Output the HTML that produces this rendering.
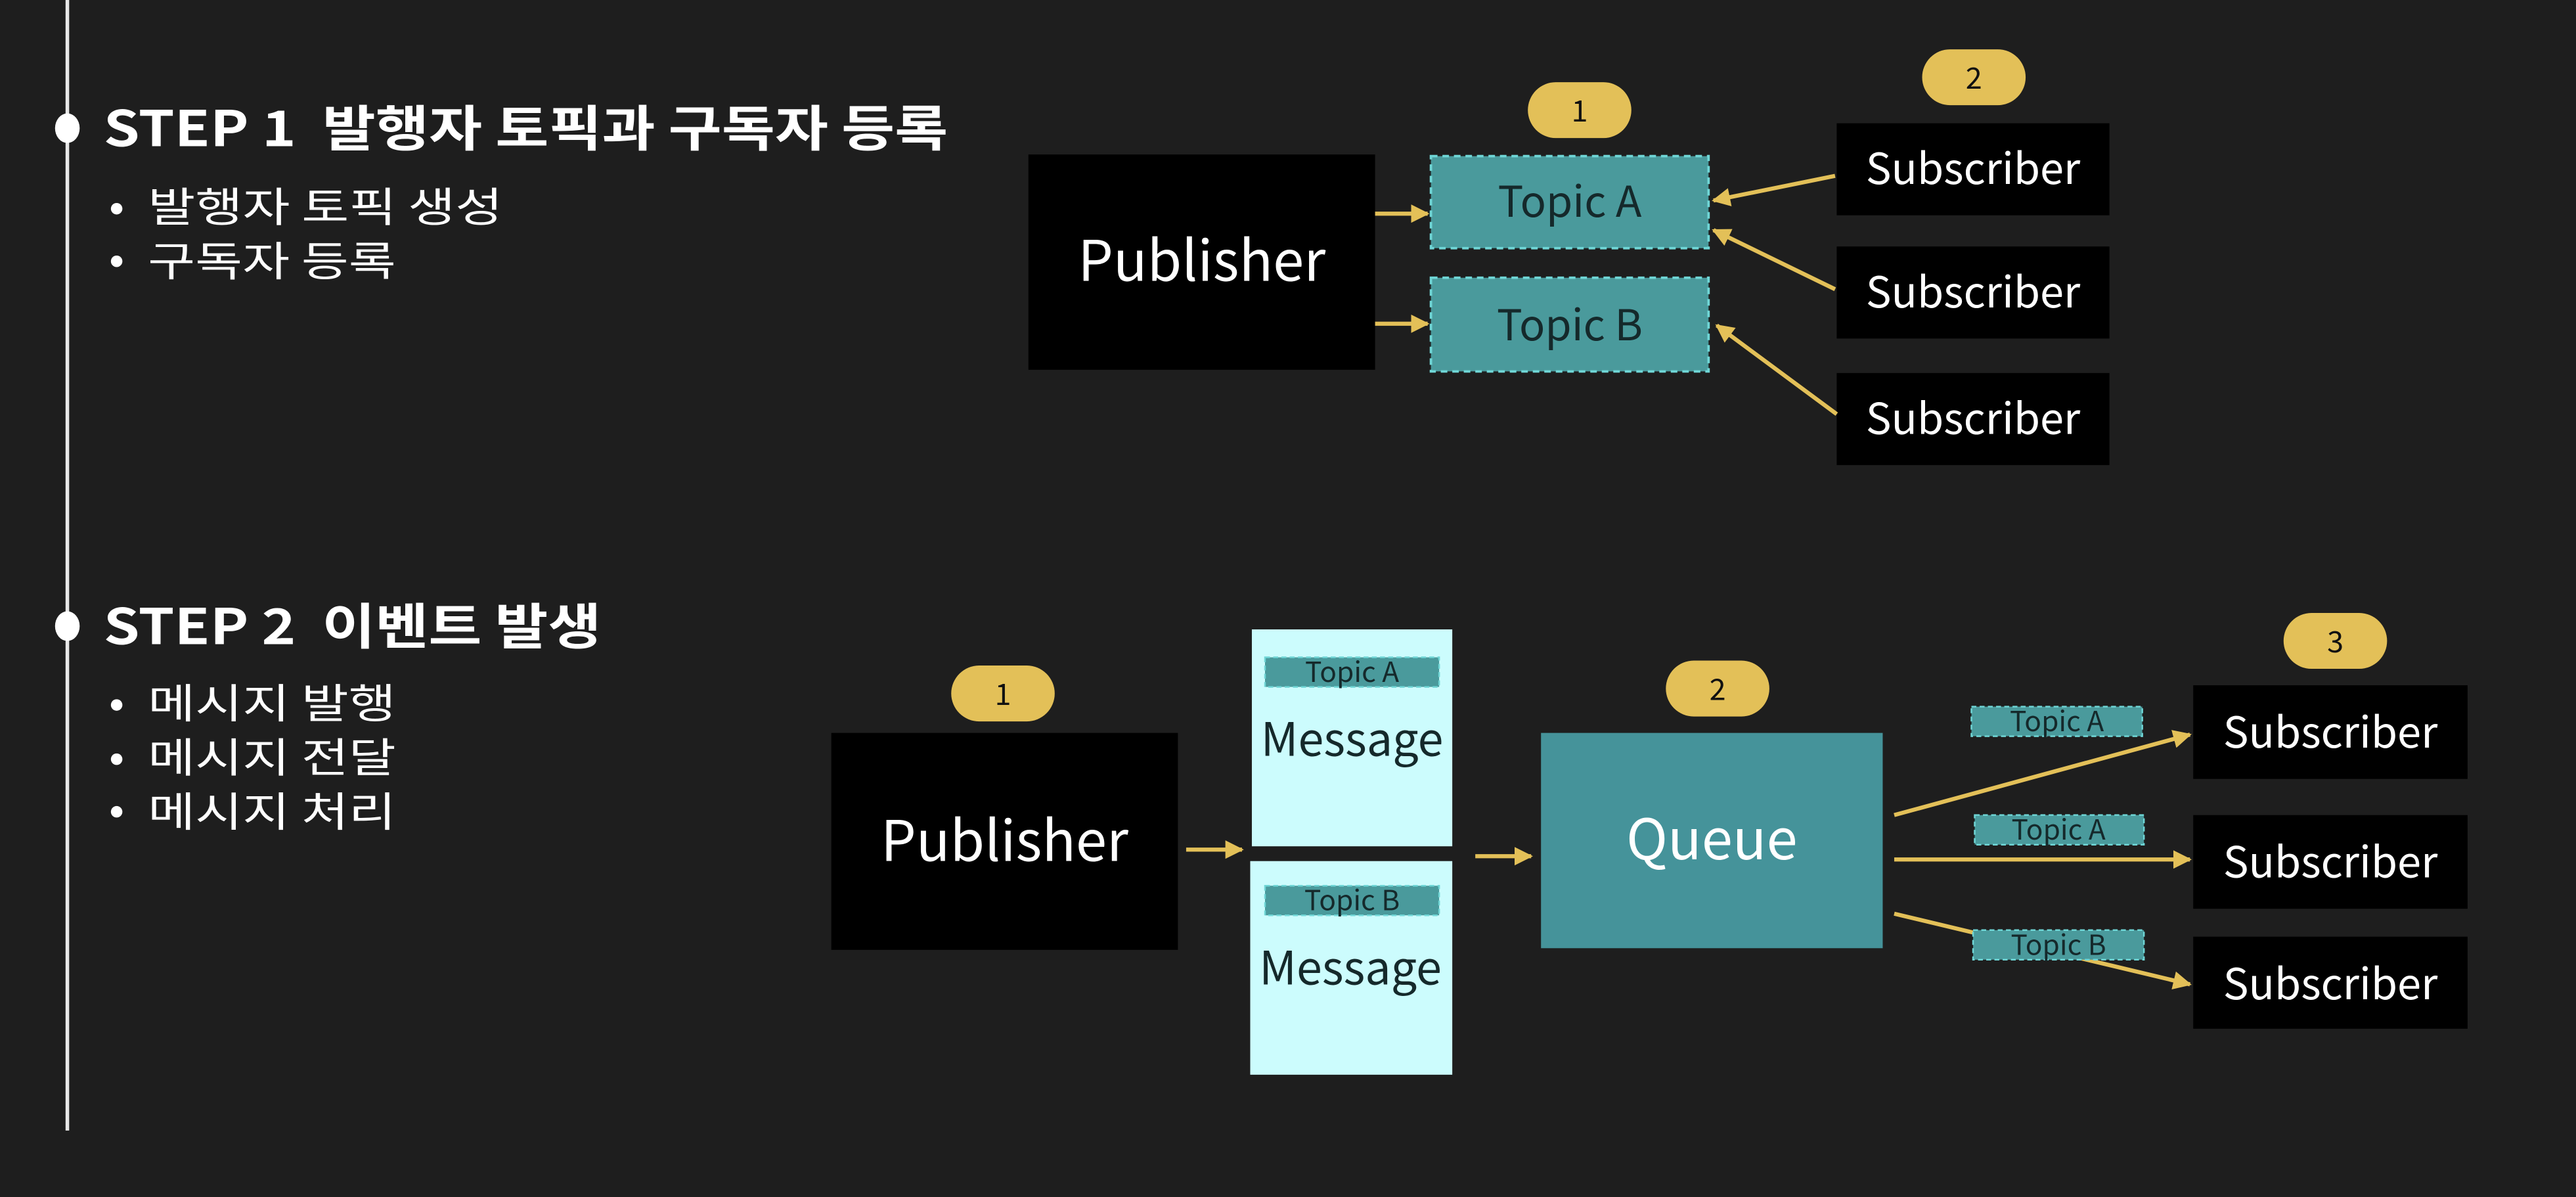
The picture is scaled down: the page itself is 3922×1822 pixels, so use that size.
<!DOCTYPE html>
<html><head><meta charset="utf-8"><style>
html,body{margin:0;padding:0;background:#1e1e1e;}
svg{display:block;}
text{font-family:"Noto Sans CJK KR","Liberation Sans",sans-serif;}
</style></head><body>
<svg width="3922" height="1822" viewBox="0 0 1568 728.4" xmlns="http://www.w3.org/2000/svg">
<defs>
<marker id="ar" viewBox="0 0 10 10" refX="9" refY="5" markerWidth="4.5" markerHeight="4.5" orient="auto-start-reverse" markerUnits="strokeWidth">
<path d="M0,0 L10,5 L0,10 z" fill="#e3c058"/>
</marker>
</defs>
<rect width="1568" height="728.4" fill="#1e1e1e"/>
<line x1="41" y1="0" x2="41" y2="688" stroke="#e8e8e8" stroke-width="2.2"/>
<ellipse cx="41" cy="78" rx="7.5" ry="9" fill="#fff"/>
<ellipse cx="41" cy="381" rx="7.5" ry="9" fill="#fff"/>
<g fill="#fff">
<text x="63" y="89" font-size="30" font-weight="bold" textLength="514" lengthAdjust="spacingAndGlyphs">STEP 1&#160;&#160;발행자 토픽과 구독자 등록</text>
<text x="63" y="392" font-size="30" font-weight="bold" textLength="303" lengthAdjust="spacingAndGlyphs">STEP 2&#160;&#160;이벤트 발생</text>
<g font-size="25">
<circle cx="71" cy="127" r="3.5"/><text x="90" y="135" textLength="216" lengthAdjust="spacingAndGlyphs">발행자 토픽 생성</text>
<circle cx="71" cy="159" r="3.5"/><text x="90" y="168" textLength="151" lengthAdjust="spacingAndGlyphs">구독자 등록</text>
<circle cx="71" cy="429" r="3.5"/><text x="90" y="437" textLength="151" lengthAdjust="spacingAndGlyphs">메시지 발행</text>
<circle cx="71" cy="462" r="3.5"/><text x="90" y="470" textLength="151" lengthAdjust="spacingAndGlyphs">메시지 전달</text>
<circle cx="71" cy="494" r="3.5"/><text x="90" y="503" textLength="151" lengthAdjust="spacingAndGlyphs">메시지 처리</text>
</g>
</g>

<rect x="626" y="94" width="211" height="131" fill="#000"/>
<text x="731.5" y="171" font-size="34" fill="#fff" text-anchor="middle">Publisher</text>
<rect x="930" y="50" width="63" height="34" rx="17" fill="#e3c058"/>
<text x="961.5" y="74" font-size="18" fill="#111" text-anchor="middle">1</text>
<rect x="1170" y="30" width="63" height="34" rx="17" fill="#e3c058"/>
<text x="1201.5" y="54" font-size="18" fill="#111" text-anchor="middle">2</text>
<rect x="871" y="95" width="169" height="56" fill="#4a9a9c" stroke="#6fd6d6" stroke-width="1.5" stroke-dasharray="4,3"/>
<text x="955.5" y="132" font-size="26" fill="#15292b" text-anchor="middle">Topic A</text>
<rect x="871" y="169" width="169" height="57" fill="#4a9a9c" stroke="#6fd6d6" stroke-width="1.5" stroke-dasharray="4,3"/>
<text x="955.5" y="207" font-size="26" fill="#15292b" text-anchor="middle">Topic B</text>
<g fill="#000">
<rect x="1118" y="75" width="166" height="56"/>
<rect x="1118" y="150" width="166" height="56"/>
<rect x="1118" y="227" width="166" height="56"/>
</g>
<g fill="#fff" font-size="26" text-anchor="middle">
<text x="1201" y="112">Subscriber</text>
<text x="1201" y="187">Subscriber</text>
<text x="1201" y="264">Subscriber</text>
</g>
<g stroke="#e3c058" stroke-width="2.5" marker-end="url(#ar)">
<line x1="837" y1="130" x2="869" y2="130"/>
<line x1="837" y1="197" x2="869" y2="197"/>
<line x1="1117" y1="107" x2="1043" y2="122"/>
<line x1="1117" y1="176" x2="1043" y2="140"/>
<line x1="1118" y1="252" x2="1045" y2="198"/>
</g>

<rect x="579" y="405" width="63" height="34" rx="17" fill="#e3c058"/>
<text x="610.5" y="429" font-size="18" fill="#111" text-anchor="middle">1</text>
<rect x="1014" y="402" width="63" height="34" rx="17" fill="#e3c058"/>
<text x="1045.5" y="426" font-size="18" fill="#111" text-anchor="middle">2</text>
<rect x="1390" y="373" width="63" height="34" rx="17" fill="#e3c058"/>
<text x="1421.5" y="397" font-size="18" fill="#111" text-anchor="middle">3</text>
<rect x="506" y="446" width="211" height="132" fill="#000"/>
<text x="611.5" y="524" font-size="34" fill="#fff" text-anchor="middle">Publisher</text>
<rect x="762" y="383" width="122" height="132" fill="#ccfcfd"/>
<rect x="761" y="524" width="123" height="130" fill="#ccfcfd"/>
<rect x="770" y="400" width="106" height="18" fill="#4a9a9c" stroke="#6fd6d6" stroke-width="1" stroke-dasharray="3,2"/>
<text x="823" y="415" font-size="17" fill="#15292b" text-anchor="middle">Topic A</text>
<rect x="770" y="539" width="106" height="18" fill="#4a9a9c" stroke="#6fd6d6" stroke-width="1" stroke-dasharray="3,2"/>
<text x="823" y="554" font-size="17" fill="#15292b" text-anchor="middle">Topic B</text>
<text x="823" y="460" font-size="28" fill="#15292b" text-anchor="middle">Message</text>
<text x="822" y="599" font-size="28" fill="#15292b" text-anchor="middle">Message</text>
<rect x="938" y="446" width="208" height="131" fill="#45939a"/>
<text x="1042" y="523" font-size="34" fill="#fff" text-anchor="middle">Queue</text>
<g fill="#000">
<rect x="1335" y="417" width="167" height="57"/>
<rect x="1335" y="496" width="167" height="57"/>
<rect x="1335" y="570" width="167" height="56"/>
</g>
<g fill="#fff" font-size="26" text-anchor="middle">
<text x="1418.5" y="455">Subscriber</text>
<text x="1418.5" y="534">Subscriber</text>
<text x="1418.5" y="608">Subscriber</text>
</g>
<g stroke="#e3c058" stroke-width="2.5" marker-end="url(#ar)">
<line x1="722" y1="517" x2="756" y2="517"/>
<line x1="898" y1="521" x2="932" y2="521"/>
<line x1="1153" y1="496" x2="1333" y2="447"/>
<line x1="1153" y1="523" x2="1333" y2="523"/>
<line x1="1153" y1="556" x2="1333" y2="599"/>
</g>
<g font-size="17" fill="#15292b" text-anchor="middle">
<rect x="1200" y="430" width="104" height="18" fill="#4a9a9c" stroke="#6fd6d6" stroke-width="1" stroke-dasharray="3,2"/>
<text x="1252" y="445">Topic A</text>
<rect x="1202" y="496" width="103" height="18" fill="#4a9a9c" stroke="#6fd6d6" stroke-width="1" stroke-dasharray="3,2"/>
<text x="1253" y="511">Topic A</text>
<rect x="1201" y="566" width="104" height="18" fill="#4a9a9c" stroke="#6fd6d6" stroke-width="1" stroke-dasharray="3,2"/>
<text x="1253" y="581">Topic B</text>
</g>
</svg>
</body></html>
